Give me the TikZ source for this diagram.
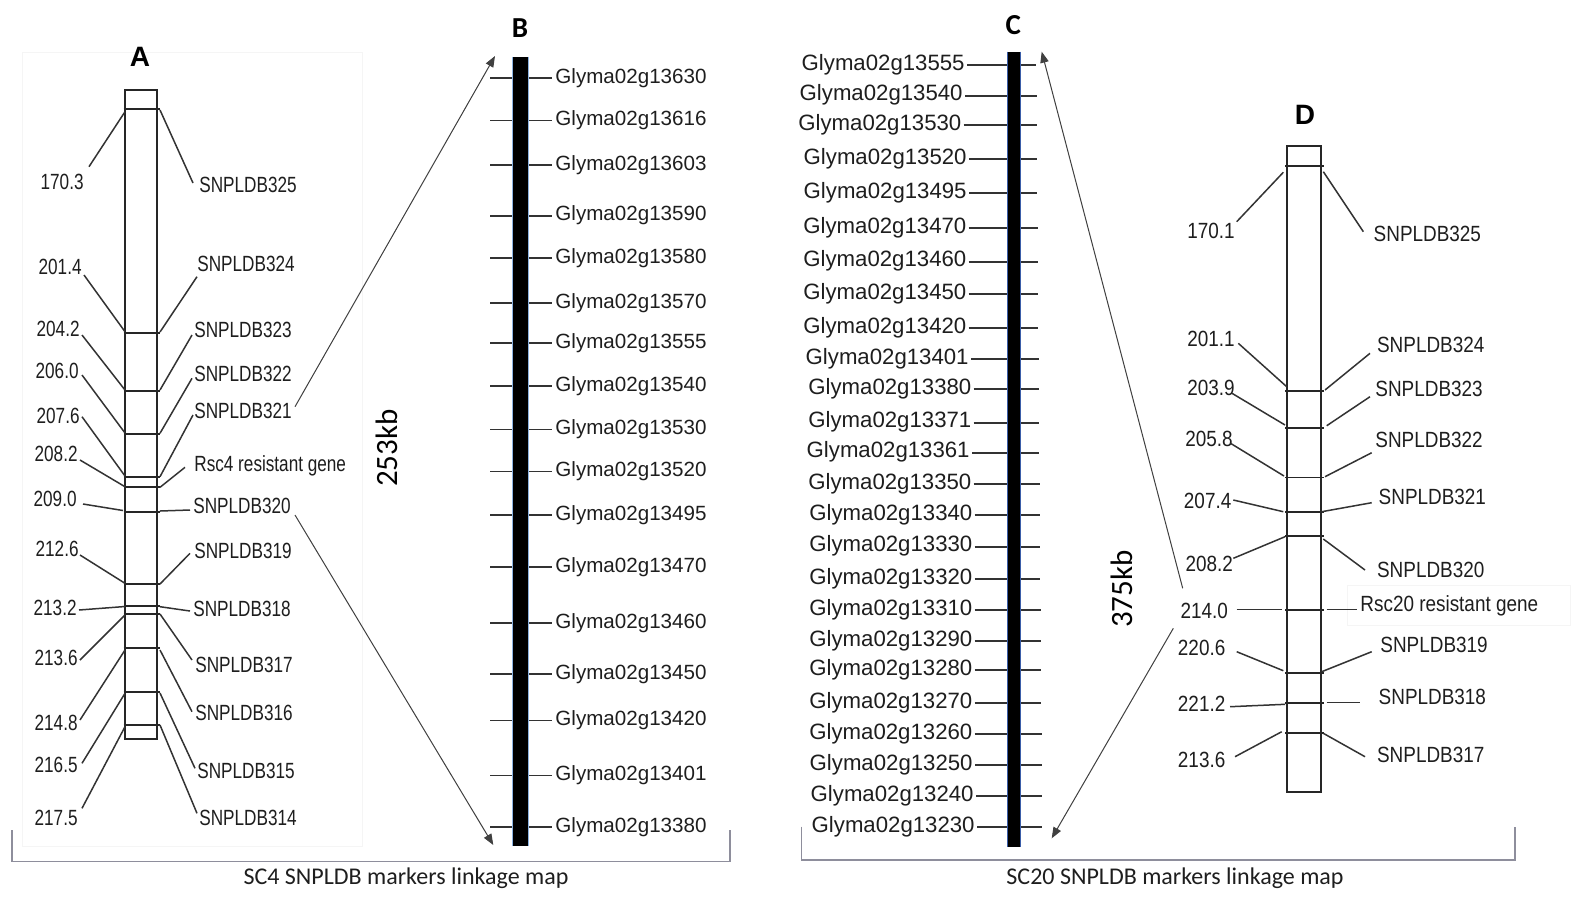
\documentclass[tikz,border=0pt]{standalone}
\usepackage{fontspec}
\setmainfont{Liberation Sans}
\newfontfamily\narrowA[FakeStretch=0.78]{Liberation Sans}
\newfontfamily\narrowD[FakeStretch=0.86]{Liberation Sans}
\newfontfamily\calib{Carlito}
\usetikzlibrary{arrows.meta}
\definecolor{txt}{HTML}{1E1E1E}
\definecolor{brk}{HTML}{8E8E9C}
\definecolor{edgeB}{HTML}{8DB4E2}
\definecolor{edgeC}{HTML}{3A5DA8}
\begin{document}
\begin{tikzpicture}[x=0.5pt,y=-0.5pt,
  chrom/.style={line width=0.95pt, draw=black!85},
  conn/.style={line width=0.75pt, draw=black!80},
  tickline/.style={line width=0.9pt, draw=black!80},
  lblA/.style={font=\narrowA\fontsize{11}{13}\selectfont, inner sep=0pt, text=txt},
  lblD/.style={font=\narrowD\fontsize{11}{13}\selectfont, inner sep=0pt, text=txt},
  glyB/.style={font=\fontsize{10.3}{12}\selectfont, inner sep=0pt, text=txt},
  glyC/.style={font=\fontsize{11.1}{13}\selectfont, inner sep=0pt, text=txt},
  panel/.style={font=\bfseries\fontsize{14}{16}\selectfont, inner sep=0pt, text=black},
  panelC/.style={font=\calib\bfseries\fontsize{14.5}{16}\selectfont, inner sep=0pt, text=black},
  kb/.style={font=\calib\fontsize{15.5}{17}\selectfont, inner sep=0pt, text=black, rotate=90},
  captxt/.style={font=\calib\fontsize{12}{14}\selectfont, inner sep=0pt, text=txt},
  arr/.style={line width=0.5pt, draw=black!75, -{Triangle[length=5.5pt,width=4.2pt]}},
  bracket/.style={line width=0.7pt, draw=brk},
  faint/.style={line width=0.4pt, draw=black!4}]
\fill[white] (0,0) rectangle (1588,901);
\useasboundingbox (0,0) rectangle (1588,901);

% ---------------- faint frames ----------------
\draw[faint] (22,52) rectangle (362,846);

% ---------------- Panel A ----------------
\node[panel] (labA) at (140,56.7) {A};
\draw[chrom] (125,90) rectangle (157,739);
\foreach \y in {109,332.7,391,434.3,476.7,487.3,511.7,584,605.7,614,648.3,692.3,724.7}
  \draw[chrom] (123.5,\y) -- (160,\y);
\foreach \t/\ex/\y/\sx/\sy/\bx/\by [count=\i] in {
  170.3/84/184/89/166.7/125/111.7,
  201.4/82/269/84/275/125/331.7,
  204.2/80/331.7/82/335/125/390,
  206.0/79/373.3/82/375/125/433,
  207.6/80/418.3/82/416.7/125/476,
  208.2/78/456.7/80/460/125/486.7,
  209.0/77/501.7/83/504/123/510.5,
  212.6/79/551.7/80/555/125/583.3,
  213.2/77/610/79/610/125/606.5,
  213.6/78/660/80/660/125/615,
  214.8/78/725/80/720/125/650,
  216.5/78/766.7/82/763.3/125/693.3,
  217.5/78/820/82/808.3/125/726.7}{
  \node[lblA, anchor=mid east] (al\i) at (\ex,\y) {\t};
  \coordinate (als\i) at (\sx,\sy);
  \coordinate (alb\i) at (\bx,\by);
  \draw[conn] (als\i) -- (alb\i);
}
\foreach \t/\wx/\y/\bx/\by/\ex/\ey [count=\i] in {
  SNPLDB325/199/187/160/110/193/183,
  SNPLDB324/197/266.7/160/332/197/276.7,
  SNPLDB323/194/332.7/160/390/192/335,
  SNPLDB322/194/376.7/160/433.3/192/378.3,
  SNPLDB321/194/413.3/160/476.7/193/415,
  Rsc4 resistant gene/194/466.7/160/487.3/185/467.3,
  SNPLDB320/193/508.3/160/511/190/510,
  SNPLDB319/194/553.3/160/584/190/553.3,
  SNPLDB318/193/611.7/160/606.7/190/611,
  SNPLDB317/195/666.7/160/614/192/660,
  SNPLDB316/195/715/160/650/192/711.7,
  SNPLDB315/197/773.3/160/693/195/768.3,
  SNPLDB314/199/820/160/725/197/813.3}{
  \node[lblA, anchor=mid west] (ar\i) at (\wx,\y) {\t};
  \coordinate (arb\i) at (\bx,\by);
  \coordinate (are\i) at (\ex,\ey);
  \draw[conn] (arb\i) -- (are\i);
}

% ---------------- Panel B ----------------
\node[panelC] (labB) at (520,28.3) {B};
\foreach \y/\g [count=\i] in {
  78/13630, 120.5/13616, 165/13603, 215.7/13590, 258.3/13580, 302.8/13570,
  343.3/13555, 385.9/13540, 429.4/13530, 471.5/13520, 515.3/13495, 567/13470,
  622.8/13460, 674/13450, 720.5/13420, 775.5/13401, 827/13380}{
  \node[glyB, anchor=mid west] (gb\i) at (555,\y) {Glyma02g\g};
  \draw[tickline] (490,\y) -- (552,\y);
}
\fill[black] (512,56.7) rectangle (528,846);
\draw[edgeB, line width=0.5pt] (512,56.7) -- (512,846) (528,56.7) -- (528,846);
\coordinate (Btop) at (495,56);
\coordinate (Bbot) at (493.3,845);
\coordinate (As321) at (295,406.7);
\coordinate (As320) at (295,515);
\draw[arr] (As321) -- (Btop);
\draw[arr] (As320) -- (Bbot);
\node[kb] (kbB) at (387,448) {253kb};

% ---------------- Panel C ----------------
\node[panelC] (labC) at (1013.3,25) {C};
\foreach \y/\g/\ex [count=\i] in {
  65/13555/965, 95.7/13540/963, 125/13530/961.7, 159.3/13520/967,
  193.3/13495/967, 228.3/13470/966.7, 261.7/13460/966.7, 294.3/13450/966.7,
  328.3/13420/966.7, 359/13401/969, 389.3/13380/971.7, 422.7/13371/971.7,
  452.7/13361/970, 484/13350/971.7, 515/13340/972.7, 546.7/13330/972.7,
  579.3/13320/972.7, 610/13310/972.7, 640.7/13290/972.7, 670/13280/972.7,
  702.7/13270/972.7, 734.3/13260/972.7, 765/13250/973, 796/13240/974,
  827.3/13230/975}{
  \node[glyC, anchor=mid east] (gc\i) at (\ex,\y) {Glyma02g\g};
  \draw[tickline] ([xshift=1pt]gc\i.mid east) -- (1007,\y);
  \draw[tickline] (1020,\y) -- ({1036+\i*0.25},\y);
}
\fill[black] (1007,51.7) rectangle (1020,846.7);
\draw[edgeC, line width=0.5pt] (1007,51.7) -- (1007,846.7) (1020,51.7) -- (1020,846.7);
\coordinate (Ctop) at (1041.7,51.7);
\coordinate (Cbot) at (1051.7,838.3);
\coordinate (Ds1) at (1182.7,588.3);
\coordinate (Ds2) at (1173.3,628.3);
\draw[arr] (Ds1) -- (Ctop);
\draw[arr] (Ds2) -- (Cbot);
\node[kb] (kbC) at (1122,589) {375kb};

% ---------------- Panel D ----------------
\node[panel] (labD) at (1305,115) {D};
\draw[faint, fill=white] (1347,585) rectangle (1570,625);
\draw[chrom] (1287,146) rectangle (1321,791.7);
\foreach \y in {166,391,427.7,477.5,511.7,536,610,673.3,703.3,732.7}
  \draw[chrom] (1285,\y) -- (1323.5,\y);
\foreach \t/\ex/\y/\sx/\sy/\bx/\by [count=\i] in {
  170.1/1235/233.3/1236.7/221.7/1283.3/172.3,
  201.1/1235/341.7/1238.3/343.3/1286.7/386.7,
  203.9/1235/390/1232/393.3/1285/425,
  205.8/1233/441/1230.5/443.3/1284/476,
  207.4/1231.7/503.3/1233.3/500/1283.3/511.7,
  208.2/1233.3/566.7/1233.3/558.3/1285/536.7,
  214.0/1228.3/613.3/1236.7/609.3/1281.7/609.3,
  220.6/1225.7/650.7/1236.7/651.7/1283.3/670.7,
  221.2/1225.7/706/1230/706.7/1285/704.3,
  213.6/1225.7/761.7/1235/756.7/1281.7/731.7}{
  \node[lblD, anchor=mid east] (dl\i) at (\ex,\y) {\t};
  \coordinate (dls\i) at (\sx,\sy);
  \coordinate (dlb\i) at (\bx,\by);
  \draw[conn] (dls\i) -- (dlb\i);
}
\foreach \t/\wx/\y/\bx/\by/\ex/\ey [count=\i] in {
  SNPLDB325/1373.3/236.7/1323.3/171.7/1363.3/231.7,
  SNPLDB324/1376.7/347.3/1325/390/1370/353.3,
  SNPLDB323/1375/391.7/1326.7/425.7/1370/396.7,
  SNPLDB322/1375/442.7/1325/476.7/1371.7/452.7,
  SNPLDB321/1378.3/499.3/1321.7/511.7/1371.7/502.7,
  SNPLDB320/1376.7/571.7/1323.3/539/1365/570,
  Rsc20 resistant gene/1360/606.7/1326.7/609.3/1357/609.3,
  SNPLDB319/1380/647.3/1321.7/671.7/1371.7/651.7,
  SNPLDB318/1378.3/699.3/1326.7/702.7/1360/702.7,
  SNPLDB317/1376.7/757.3/1323.3/733.3/1365/756.7}{
  \node[lblD, anchor=mid west] (dr\i) at (\wx,\y) {\t};
  \coordinate (drb\i) at (\bx,\by);
  \coordinate (dre\i) at (\ex,\ey);
  \draw[conn] (drb\i) -- (dre\i);
}

% ---------------- Brackets and captions ----------------
\coordinate (k1a) at (12,830);
\coordinate (k1b) at (12,861.7);
\coordinate (k1c) at (730,861.7);
\coordinate (k1d) at (730,830);
\draw[bracket] (k1a) -- (k1b) -- (k1c) -- (k1d);
\node[captxt, anchor=mid] (cap1) at (406,879.5) {SC4 SNPLDB markers linkage map};
\coordinate (k2a) at (801.7,826.7);
\coordinate (k2b) at (801.7,860);
\coordinate (k2c) at (1515,860);
\coordinate (k2d) at (1515,826.7);
\draw[bracket] (k2a) -- (k2b) -- (k2c) -- (k2d);
\node[captxt, anchor=mid] (cap2) at (1175,879.5) {SC20 SNPLDB markers linkage map};
\end{tikzpicture}
\end{document}
